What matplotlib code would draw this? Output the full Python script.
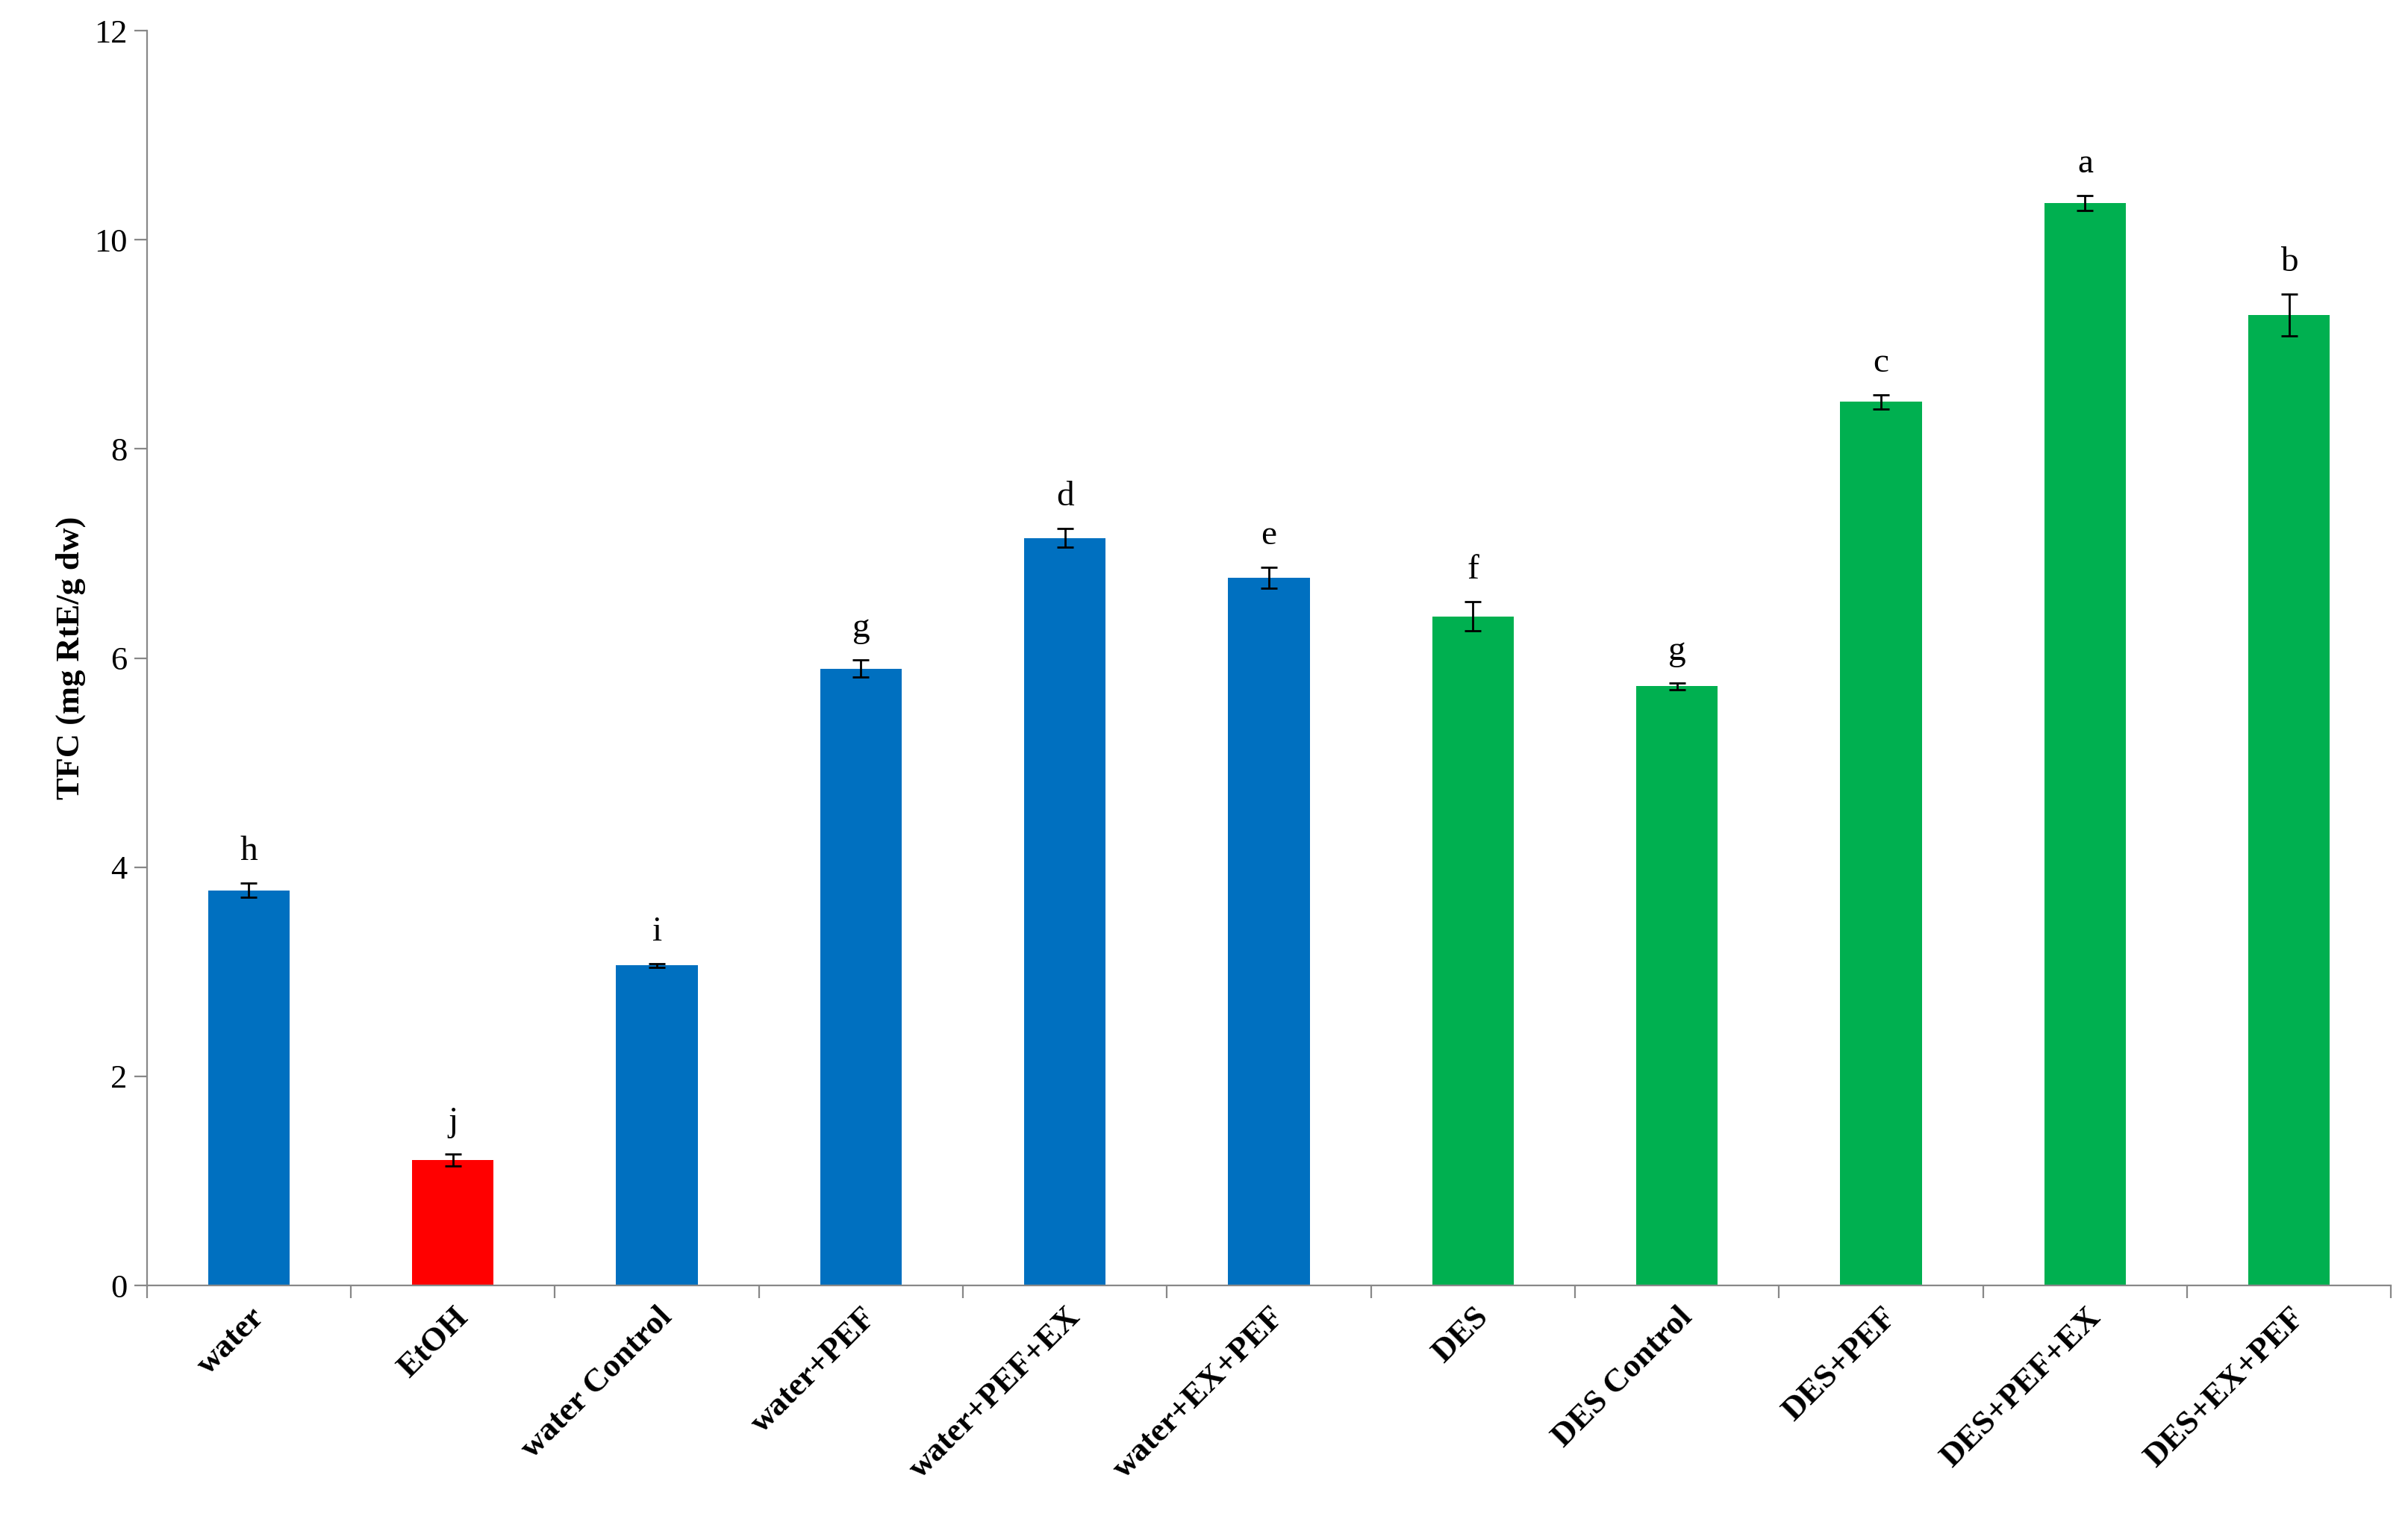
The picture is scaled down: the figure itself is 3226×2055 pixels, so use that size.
import numpy as np
import matplotlib.pyplot as plt

plt.rcParams['font.family'] = ['Liberation Serif', 'DejaVu Serif']

categories = ["water", "EtOH", "water Control", "water+PEF", "water+PEF+EX", "water+EX+PEF",
              "DES", "DES Control", "DES+PEF", "DES+PEF+EX", "DES+EX+PEF"]
values = [3.78, 1.20, 3.06, 5.90, 7.15, 6.77, 6.40, 5.73, 8.45, 10.35, 9.28]
errors = [0.07, 0.06, 0.02, 0.08, 0.09, 0.10, 0.14, 0.03, 0.07, 0.07, 0.20]
letters = ["h", "j", "i", "g", "d", "e", "f", "g", "c", "a", "b"]
colors = ["#0070C0", "#FF0000"] + ["#0070C0"] * 4 + ["#00B050"] * 5

fig = plt.figure(figsize=(16.13, 10.275), dpi=200)
ax = fig.add_axes([0.061, 0.162, 0.932, 0.818])

x = np.arange(len(categories))
ax.bar(x, values, width=0.4, color=colors, yerr=errors, capsize=4,
       error_kw=dict(ecolor="black", elinewidth=1, capthick=1))
for xi, v, e, l in zip(x, values, errors, letters):
    ax.text(xi, v + e + 0.15, l, ha="center", va="bottom", fontsize=17)

ax.set_xlim(-0.5, len(categories) - 0.5)
ax.set_ylim(0, 12)
ax.set_yticks(range(0, 13, 2))
ax.set_xticks(np.arange(-0.5, len(categories), 1))
ax.set_xticklabels([])
ax.set_xticks(x, minor=True)
ax.set_xticklabels(categories, minor=True, rotation=45, ha="right", rotation_mode="anchor",
                   fontsize=16, fontweight="bold")
ax.tick_params(axis="x", which="minor", length=0, pad=8)
ax.tick_params(axis="x", which="major", direction="out", length=6, color="#888888")
ax.tick_params(axis="y", direction="out", length=6, color="#888888", labelsize=16)
ax.set_ylabel("TFC (mg RtE/g dw)", fontsize=16, fontweight="bold")
for s in ["top", "right"]:
    ax.spines[s].set_visible(False)
for s in ["left", "bottom"]:
    ax.spines[s].set_color("#888888")

fig.savefig("out.png", dpi=200)
